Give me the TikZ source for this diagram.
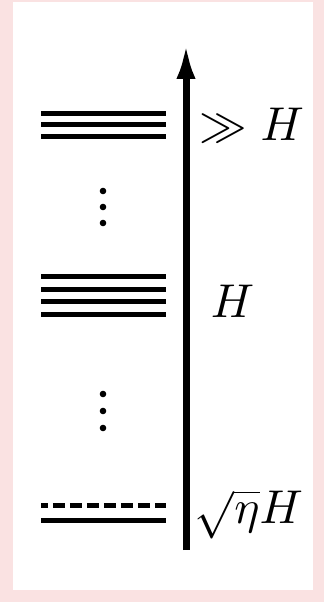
\documentclass[tikz,border=0pt]{standalone}
\usetikzlibrary{arrows.meta}
\definecolor{framepink}{RGB}{250,226,226}
\tikzset{
  state/.style={line width=0.1cm},
  axis/.style={line width=0.14cm, -{Latex[length=0.74cm,width=0.38cm]}},
  lbl/.style={anchor=base west, inner sep=0pt, scale=2.7},
}
\begin{document}
\begin{tikzpicture}[x=0.02cm,y=-0.02cm]
    \fill[framepink] (0,0) rectangle (324,602);
    \fill[white] (13,2) rectangle (313,590);

    \coordinate (axisbot) at (186,550);
    \coordinate (axistop) at (186,42);
    \draw[axis] (axisbot) -- (axistop);

    \foreach \y in {113,124.5,136,276.5,289,301.5,314,520}
        \draw[state] (41,\y) -- (166,\y);
    \draw[state, dash pattern=on 0.24cm off 0.1cm, dash phase=0.1cm] (41,505) -- (166,505);
    \foreach \y in {191,207,223,394,411,428}
        \fill (103,\y) circle (0.066cm);

    \node[lbl] (high) at (199,140) {$\gg H$};
    \node[lbl] (mid) at (210,317) {$H$};
    \node[lbl] (low) at (194,523) {$\sqrt{\eta}H$};
\end{tikzpicture}
\end{document}
